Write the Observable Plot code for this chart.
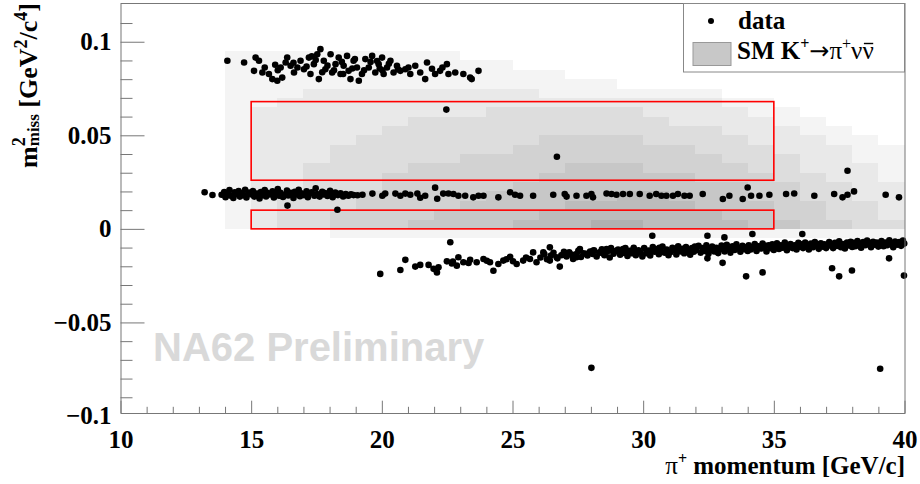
<!DOCTYPE html>
<html><head><meta charset="utf-8">
<script src="https://cdn.jsdelivr.net/npm/d3@7"></script>
<script src="https://cdn.jsdelivr.net/npm/@observablehq/plot@0.6"></script>
<style>
body{margin:0;background:#fff}
#wrap{position:relative;width:920px;height:484px;overflow:hidden;background:#fff}
#wrap svg.overlay{position:absolute;left:0;top:0;pointer-events:none}
</style></head><body>
<div id="wrap"></div>
<script>
// ---------- data ----------
// data points: K+ -> pi+ pi+ pi- region
const band3pi = [
[14.07,0.0901],[14.71,0.0892],[15.15,0.0918],[15.28,0.0901],[15.09,0.0847],[15.41,0.0838],[15.66,0.0830],[15.79,0.0803],[15.98,0.0794],[16.17,0.0811],
[16.11,0.0865],[16.30,0.0892],[16.36,0.0918],[16.49,0.0874],[16.62,0.0838],[16.75,0.0865],[16.87,0.0901],[17.00,0.0856],[17.19,0.0918],[17.25,0.0830],
[17.38,0.0883],[17.51,0.0936],[17.63,0.0963],[17.57,0.0803],[17.76,0.0901],[17.82,0.0856],[18.02,0.0936],[18.08,0.0838],[18.21,0.0883],[18.33,0.0918],
[18.40,0.0830],[18.52,0.0874],[18.65,0.0927],[18.71,0.0847],[18.78,0.0803],[18.90,0.0901],[19.03,0.0865],[19.10,0.0794],[19.22,0.0830],[19.35,0.0910],
[19.48,0.0865],[19.61,0.0927],[19.73,0.0838],[19.86,0.0883],[19.99,0.0918],[20.05,0.0830],[20.18,0.0865],[20.31,0.0901],[20.43,0.0838],[20.56,0.0874],
[20.69,0.0847],[20.88,0.0856],[21.07,0.0830],[21.26,0.0874],[21.45,0.0838],[21.71,0.0892],[21.64,0.0803],[22.02,0.0830],[22.21,0.0847],[22.47,0.0883],
[22.53,0.0830],[22.79,0.0838],[23.10,0.0830],[23.42,0.0803],[23.68,0.0847],[23.36,0.0811],
[16.6,0.0890],[17.1,0.0870],[17.45,0.0905],[17.9,0.0875],[18.15,0.0850],[18.45,0.0895],[18.85,0.0860],[19.3,0.0850],[19.55,0.0895],[19.9,0.0860],
[20.25,0.0885],[20.6,0.0855],[17.7,0.0840],[18.95,0.0910],[20.0,0.0850],[16.0,0.0850],[15.5,0.0865],[21.0,0.0865],[21.9,0.0858],[22.3,0.0865],
[15.9,0.0880],[18.5,0.0830],[19.8,0.0900],[17.3,0.0925]
];
// data points: K+ -> pi+ pi0 region
const bandPi0 = [
[13.2,0.0198],[13.5,0.0184],
[13.85,0.0185],[13.95,0.0200],[14.0,0.0172],[14.1,0.0192],[14.15,0.0210],[14.2,0.0180],[14.3,0.0168],[14.35,0.0198],[14.4,0.0188],[14.5,0.0205],
[14.55,0.0175],[14.6,0.0193],[14.7,0.0182],[14.75,0.0212],[14.8,0.0170],[14.9,0.0197],[15.0,0.0186],[15.05,0.0205],[15.1,0.0175],[15.2,0.0192],
[15.3,0.0165],[15.35,0.0200],[15.4,0.0183],[15.5,0.0210],[15.55,0.0176],[15.6,0.0195],[15.7,0.0186],[15.8,0.0203],[15.85,0.0170],[15.9,0.0190],
[16.0,0.0215],[16.05,0.0180],[16.1,0.0196],[16.2,0.0173],[16.3,0.0188],[16.35,0.0207],[16.4,0.0181],[16.5,0.0195],[16.6,0.0168],[16.65,0.0201],
[16.7,0.0186],[16.8,0.0212],[16.85,0.0177],[16.9,0.0193],[17.0,0.0183],[17.1,0.0204],[17.15,0.0172],[17.2,0.0190],[17.3,0.0198],[17.4,0.0180],
[17.45,0.0220],[17.5,0.0189],[17.6,0.0175],[17.7,0.0201],[17.75,0.0186],[17.8,0.0194],[17.9,0.0178],[18.0,0.0206],[18.05,0.0188],[18.1,0.0172],
[18.2,0.0197],[18.3,0.0183],[18.4,0.0193],[18.5,0.0176],[18.6,0.0189],[18.7,0.0180],[18.8,0.0187],[18.9,0.0183],[19.05,0.0182],
[19.24,0.0185],[19.62,0.0191],[20.0,0.0180],[20.11,0.0191],[20.5,0.0191],[20.69,0.0180],[20.88,0.0191],[21.07,0.0185],[21.34,0.0191],[21.45,0.0169],
[21.64,0.0180],[22.02,0.0223],[22.1,0.0164],[22.33,0.0191],[22.53,0.0192],[22.72,0.0189],[22.91,0.0180],[23.17,0.0180],[23.48,0.0171],[23.68,0.0180],
[23.87,0.0180],[24.44,0.0171],[24.89,0.0198],[25.08,0.0185],[25.27,0.0180],[25.77,0.0180],[26.54,0.0185],[26.98,0.0189],[27.05,0.0175],[27.43,0.0180],
[27.81,0.0180],[28.0,0.0189],[28.06,0.0171],[28.58,0.0192],[28.77,0.0189],[28.96,0.0185],[29.21,0.0189],[29.47,0.0189],[29.85,0.0189],[30.23,0.0180],
[30.48,0.0189],[30.68,0.0180],[30.87,0.0180],[31.12,0.0180],[31.31,0.0189],[31.56,0.0180],[31.76,0.0180],[32.26,0.0189],[33.03,0.0162],[33.28,0.0180],
[33.79,0.0162],[33.98,0.0224],[34.11,0.0180],[34.43,0.0180],[34.81,0.0185],[35.45,0.0189],[35.76,0.0192],[36.53,0.0180],[37.29,0.0189],[37.61,0.0171],
[37.8,0.0185],[38.05,0.0203],[39.26,0.0185],[39.77,0.0171]
];
// data points: K+ -> mu+ nu region
const bandMuNu = [
[19.92,-0.0238],[20.69,-0.0217],[20.88,-0.0163],[21.26,-0.0199],[21.45,-0.0190],[21.77,-0.0190],[21.96,-0.0211],[22.09,-0.0230],[22.15,-0.0203],
[22.47,-0.0171],[22.66,-0.0182],[22.91,-0.0149],[22.85,-0.0194],[23.1,-0.0176],[23.36,-0.0163],[23.61,-0.0176],[23.87,-0.0158],[24.12,-0.0176],
[24.25,-0.0221],[24.44,-0.0185],[24.63,-0.0167],[24.89,-0.0146],[25.14,-0.0185],[25.39,-0.0167],[25.65,-0.0158],[25.77,-0.0123],[25.9,-0.0176],
[24.75,-0.0160],[25.0,-0.0170],[25.5,-0.0150],[24.0,-0.0168],[23.3,-0.0180],[22.7,-0.0172],
[26.16,-0.0123],[26.41,-0.0096],[26.41,-0.0167],[26.67,-0.0149],[26.79,-0.0199],[26.92,-0.0135],[27.18,-0.0131],[27.43,-0.0149],[27.56,-0.0105],
[27.81,-0.0131],[28.06,-0.0114],[28.32,-0.0123],[28.58,-0.0105],[28.83,-0.0117],[29.21,-0.0105],[29.59,-0.0110],
[26.05,-0.0150],[26.2,-0.0132],[26.3,-0.0160],[26.45,-0.0140],[26.55,-0.0125],[26.7,-0.0155],[26.85,-0.0138],[26.95,-0.0120],
[27.05,-0.0145],[27.15,-0.0122],[27.3,-0.0158],[27.4,-0.0133],[27.5,-0.0115],[27.6,-0.0148],[27.7,-0.0128],[27.85,-0.0140],[27.95,-0.0118],[27.25,-0.0137],
[28.05,-0.0131],[28.1,-0.0112],[28.2,-0.0145],[28.3,-0.0125],[28.4,-0.0106],[28.5,-0.0138],[28.6,-0.0120],[28.7,-0.0150],[28.75,-0.0100],[28.85,-0.0130],[28.95,-0.0115],[28.45,-0.0128],
[29.02,-0.0108],[29.1,-0.0135],[29.18,-0.0120],[29.3,-0.0100],[29.38,-0.0142],[29.45,-0.0115],[29.55,-0.0128],[29.62,-0.0098],[29.7,-0.0138],[29.8,-0.0112],[29.88,-0.0125],[29.95,-0.0145],[29.25,-0.0126],[29.75,-0.0120],
[30.02,-0.0100],[30.1,-0.0128],[30.18,-0.0113],[30.25,-0.0140],[30.35,-0.0095],[30.42,-0.0120],[30.5,-0.0106],[30.58,-0.0133],[30.65,-0.0115],[30.72,-0.0092],[30.8,-0.0125],[30.88,-0.0108],[30.95,-0.0138],[30.3,-0.0117],[30.6,-0.0099],[30.9,-0.0118],
[31.02,-0.0122],[31.1,-0.0098],[31.18,-0.0112],[31.25,-0.0134],[31.32,-0.0090],[31.4,-0.0118],[31.48,-0.0104],[31.55,-0.0128],[31.62,-0.0095],[31.7,-0.0112],[31.78,-0.0136],[31.85,-0.0100],[31.92,-0.0120],[31.35,-0.0108],[31.65,-0.0115],[31.96,-0.0092],
[32.02,-0.0110],[32.1,-0.0088],[32.18,-0.0125],[32.25,-0.0100],[32.32,-0.0115],[32.4,-0.0085],[32.48,-0.0130],[32.55,-0.0105],[32.62,-0.0092],[32.7,-0.0118],[32.78,-0.0098],[32.85,-0.0127],[32.92,-0.0108],[32.98,-0.0087],[32.35,-0.0103],[32.65,-0.0110],
[33.02,-0.0093],[33.1,-0.0118],[33.18,-0.0082],[33.25,-0.0105],[33.32,-0.0125],[33.4,-0.0090],[33.48,-0.0110],[33.55,-0.0080],[33.62,-0.0100],[33.7,-0.0120],[33.78,-0.0088],[33.85,-0.0106],[33.92,-0.0096],[33.98,-0.0115],[33.45,-0.0098],[33.15,-0.0100],
[34.02,-0.0085],[34.1,-0.0108],[34.18,-0.0095],[34.25,-0.0078],[34.32,-0.0115],[34.4,-0.0090],[34.48,-0.0102],[34.55,-0.0076],[34.62,-0.0098],[34.7,-0.0118],[34.78,-0.0085],[34.85,-0.0100],[34.92,-0.0080],[34.98,-0.0110],[34.35,-0.0093],[34.65,-0.0088],
[35.02,-0.0095],[35.1,-0.0075],[35.18,-0.0105],[35.25,-0.0085],[35.32,-0.0098],[35.4,-0.0070],[35.48,-0.0112],[35.55,-0.0090],[35.62,-0.0078],[35.7,-0.0100],[35.78,-0.0085],[35.85,-0.0108],[35.92,-0.0072],[35.98,-0.0093],[35.35,-0.0088],[35.65,-0.0094],
[36.02,-0.0080],[36.1,-0.0100],[36.18,-0.0070],[36.25,-0.0090],[36.32,-0.0108],[36.4,-0.0076],[36.48,-0.0095],[36.55,-0.0068],[36.62,-0.0087],[36.7,-0.0104],[36.78,-0.0074],[36.85,-0.0092],[36.92,-0.0080],[36.98,-0.0100],[36.35,-0.0084],[36.65,-0.0080],
[37.02,-0.0090],[37.1,-0.0068],[37.18,-0.0085],[37.25,-0.0100],[37.32,-0.0072],[37.4,-0.0088],[37.48,-0.0064],[37.55,-0.0095],[37.62,-0.0078],[37.7,-0.0102],[37.78,-0.0070],[37.85,-0.0086],[37.92,-0.0066],[37.98,-0.0094],[37.45,-0.0080],[37.75,-0.0084],
[38.02,-0.0072],[38.1,-0.0090],[38.18,-0.0062],[38.25,-0.0082],[38.32,-0.0098],[38.4,-0.0068],[38.48,-0.0085],[38.55,-0.0060],[38.62,-0.0078],[38.7,-0.0095],[38.78,-0.0066],[38.85,-0.0082],[38.92,-0.0070],[38.98,-0.0092],[38.35,-0.0076],[38.65,-0.0072],
[39.02,-0.0080],[39.1,-0.0062],[39.18,-0.0090],[39.25,-0.0070],[39.32,-0.0085],[39.4,-0.0058],[39.48,-0.0078],[39.55,-0.0095],[39.62,-0.0065],[39.7,-0.0082],[39.78,-0.0068],[39.85,-0.0088],[39.92,-0.0060],[39.97,-0.0076],[39.45,-0.0072],[39.75,-0.0074]
];
// isolated data points
const outliers = [
[16.37,0.0127],[18.28,0.0105],[22.45,0.0640],[26.68,0.0388],[37.8,0.0313],[28.0,-0.0740],[39.05,-0.0745],
[30.33,-0.0034],[32.44,-0.0034],[33.09,-0.0043],[34.16,-0.0025],[36.07,-0.0025],[22.6,-0.0069],
[32.44,-0.0155],[33.02,-0.0179],[33.92,-0.0251],[34.55,-0.0230],[37.21,-0.0208],[37.48,-0.0251],[37.97,-0.0220],[39.39,-0.0155],[39.96,-0.0247]
];

// SM K+ -> pi+ nu nubar expectation: 2D histogram, 1 GeV/c x 0.005 GeV^2/c^4 bins, shade 0..9
const histXLow = [14,15,16,17,18,19,20,21,22,23,24,25,26,27,28,29,30,31,32,33,34,35,36,37,38,39];
const histYLow = [0.090,0.085,0.080,0.075,0.070,0.065,0.060,0.055,0.050,0.045,0.040,0.035,0.030,0.025,0.020,0.015,0.010,0.005,0.000,-0.005];
const histRows = [
"11111 11110 00000 00000 00000 0",
"11111 11111 10000 00000 00000 0",
"11111 11111 11100 00000 00000 0",
"11111 11111 11111 00000 00000 0",
"11122 22222 22111 11110 00000 0",
"11222 22222 22222 22221 10000 0",
"12222 22222 33333 32222 11000 0",
"12222 22333 33333 33222 21100 0",
"12222 23333 33333 33332 22110 0",
"12222 33333 33444 43333 22211 0",
"12223 33333 34444 44433 32221 1",
"12223 33334 44444 44443 33221 1",
"12233 33444 44455 54444 33222 1",
"12233 34444 44555 55544 43322 1",
"12233 34444 45555 55555 44332 2",
"12333 44444 55555 66555 44332 2",
"12333 44445 55566 66655 54433 2",
"12334 44455 55666 66665 54433 2",
"12334 44555 56667 76666 55443 3",
"00001 11111 11111 11111 11111 1"
];
// signal regions
const sigRegions = [
  {p1: 15, p2: 35, m1: 0.000, m2: 0.010},
  {p1: 15, p2: 35, m1: 0.026, m2: 0.068}
];
// axis ticks
const xMajor = [10,15,20,25,30,35,40];
const xMinor = [11,12,13,14,16,17,18,19,21,22,23,24,26,27,28,29,31,32,33,34,36,37,38,39];
const yMajor = [-0.05,0,0.05,0.1];
const yMinor = [-0.09,-0.08,-0.07,-0.06,-0.04,-0.03,-0.02,-0.01,0.01,0.02,0.03,0.04,0.06,0.07,0.08,0.09,0.11];
const yLabels = [-0.1,-0.05,0,0.05,0.1];

// ---------- build ----------
const cells = [];
histRows.forEach((row, i) => {
  row.replace(/ /g, "").split("").forEach((c, j) => {
    const v = +c;
    if (v > 0) cells.push({x1: histXLow[j], x2: histXLow[j] + 1, y1: histYLow[i], y2: histYLow[i] + 0.005, v});
  });
});
const points = [...band3pi, ...bandPi0, ...bandMuNu, ...outliers].map(([x, y]) => ({x, y}));

const SERIF = "'Liberation Serif','Times New Roman',serif";
const W = 920, H = 484;
const fH = 410, fW = 784; // frame size in px (for tick lengths)
const axisColor = "#777";

const chart = Plot.plot({
  width: W, height: H,
  marginLeft: 120.5, marginRight: 15.5, marginTop: 3, marginBottom: 71,
  x: {domain: [10, 40], axis: null},
  y: {domain: [-0.0984, 0.1207], axis: null},
  color: {type: "linear", domain: [0, 9], range: ["#ffffff", "#9a9a9a"]},
  style: {background: "white"},
  marks: [
    Plot.rect(cells, {x1: "x1", x2: "x2", y1: "y1", y2: "y2", fill: "v", shapeRendering: "crispEdges"}),
    Plot.rect(sigRegions, {x1: "p1", x2: "p2", y1: "m1", y2: "m2", fill: "none", stroke: "#ff0000", strokeWidth: 1.6}),
    Plot.dot(points, {x: "x", y: "y", r: 3.3, fill: "black", stroke: "none"}),
    Plot.tickY(yMajor, {y: d => d, stroke: axisColor, insetRight: fW - 24}),
    Plot.tickY(yMinor, {y: d => d, stroke: axisColor, insetRight: fW - 12}),
    Plot.tickX(xMajor, {x: d => d, stroke: axisColor, insetTop: fH - 12.3}),
    Plot.tickX(xMinor, {x: d => d, stroke: axisColor, insetTop: fH - 6.2}),
    Plot.frame({stroke: axisColor}),
    Plot.text(xMajor, {x: d => d, frameAnchor: "bottom", dy: 26, text: d => String(d), fontSize: 25, fontWeight: "bold", fontFamily: SERIF, fill: "black", lineAnchor: "middle"}),
    Plot.text(yLabels, {y: d => d, frameAnchor: "left", dx: -9.5, textAnchor: "end", text: d => (d < 0 ? "\u2212" + Math.abs(d) : String(d)), fontSize: 25, fontWeight: "bold", fontFamily: SERIF, fill: "black", lineAnchor: "middle"})
  ]
});
const wrap = document.getElementById("wrap");
wrap.appendChild(chart);

const ov = `
<svg class="overlay" width="${W}" height="${H}" xmlns="http://www.w3.org/2000/svg">
  <text x="153" y="361" font-family="'Liberation Sans',Arial,sans-serif" font-weight="bold" font-size="40" fill="#d9d9d9">NA62 Preliminary</text>
  <g id="ovg" font-family="${SERIF}" font-weight="bold" font-size="25" fill="black">
    <rect x="683.5" y="3.5" width="221" height="68.5" fill="white" stroke="#888"/>
    <circle cx="711" cy="21" r="3" fill="black"/>
    <text x="738" y="28.5">data</text>
    <rect x="693" y="42.5" width="38" height="23" fill="#c8c8c8" stroke="#999"/>
    <text id="smtext" x="737" y="58.5">SM K<tspan font-size="16" dy="-10">+</tspan><tspan font-weight="normal" font-family="'DejaVu Sans',sans-serif" font-size="24" dy="10">→</tspan><tspan font-weight="normal">π</tspan><tspan font-size="16" font-weight="normal" dy="-10">+</tspan><tspan font-weight="normal" dy="10">νν</tspan></text>
    <text x="905" y="474" text-anchor="end"><tspan font-weight="normal">π</tspan><tspan font-size="16" dy="-10">+</tspan><tspan dy="10"> momentum [GeV/c]</tspan></text>
    <text transform="translate(37,3) rotate(-90)" text-anchor="end" font-size="26">m<tspan font-size="18" dy="-12">2</tspan><tspan font-size="17" dx="-9" dy="13.5">miss</tspan><tspan dy="-1.5"> [GeV</tspan><tspan font-size="18" dy="-10">2</tspan><tspan dy="10">/c</tspan><tspan font-size="18" dy="-10">4</tspan><tspan dy="10">]</tspan></text>
  </g>
</svg>`;
wrap.insertAdjacentHTML("beforeend", ov);

// overline (anti-neutrino bar) over the last ν of the legend label
const sm = document.getElementById("smtext");
const ext = sm.getExtentOfChar(sm.getNumberOfChars() - 1);
const bar = document.createElementNS("http://www.w3.org/2000/svg", "line");
bar.setAttribute("x1", ext.x + 1.5);
bar.setAttribute("x2", ext.x + ext.width - 0.5);
bar.setAttribute("y1", 43.5);
bar.setAttribute("y2", 43.5);
bar.setAttribute("stroke", "black");
bar.setAttribute("stroke-width", 1.4);
document.getElementById("ovg").appendChild(bar);
</script>
</body></html>
